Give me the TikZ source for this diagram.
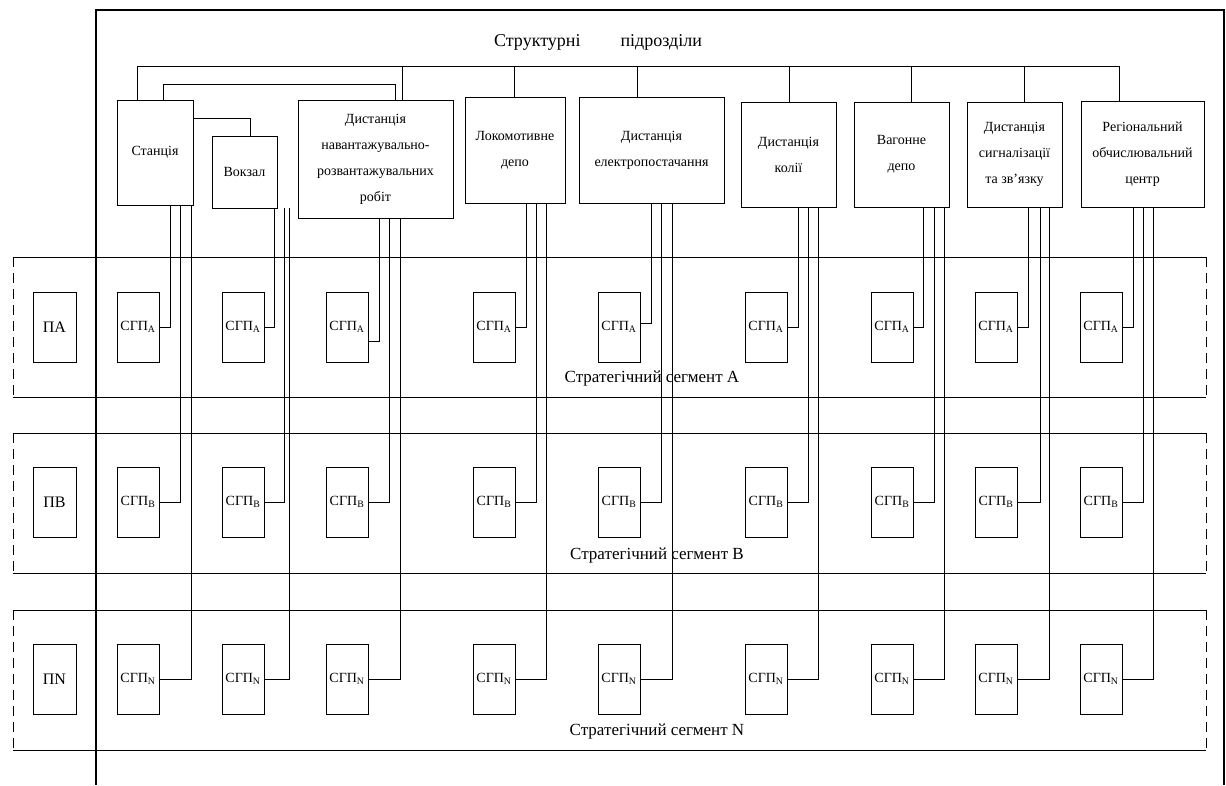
\documentclass[tikz,border=0pt]{standalone}
\usepackage{fontspec}
\setmainfont{Liberation Serif}
\begin{document}
\begin{tikzpicture}[x=1pt,y=-1pt, line width=0.8pt,
  box/.style={draw, inner sep=0pt, align=center, font=\fontsize{14}{26}\selectfont},
  modbox/.style={draw, inner sep=0pt, minimum width=42pt, minimum height=70pt, font=\fontsize{14}{16}\selectfont},
  pbox/.style={draw, inner sep=0pt, minimum width=43pt, minimum height=70pt, font=\fontsize{16}{18}\selectfont},
  frameline/.style={line width=2.2pt},
  seglab/.style={font=\fontsize{17}{19}\selectfont},
  segdash/.style={dash pattern=on 10pt off 6pt}]
\useasboundingbox (0,0) rectangle (1226,785);

% outer frame
\draw[frameline] (96,785) -- (96,10) -- (1224,10) -- (1224,785);

% title
\node[font=\fontsize{18}{20}\selectfont] (title) at (598,42) {Структурні\hspace{40pt}підрозділи};

% top boxes
\node[box, minimum width=76pt, minimum height=105pt] (b1) at (155,152.5) {Станція};
\node[box, minimum width=65pt, minimum height=72pt] (b2) at (244.5,172) {Вокзал};
\node[box, minimum width=155pt, minimum height=118pt] (b3) at (375.5,159) {Дистанція\\навантажувально-\\розвантажувальних\\робіт};
\node[box, minimum width=100pt, minimum height=106pt] (b4) at (515,150) {Локомотивне\\депо};
\node[box, minimum width=145pt, minimum height=106pt] (b5) at (651.5,150) {Дистанція\\електропостачання};
\node[box, minimum width=95pt, minimum height=105pt] (b6) at (788.5,154.5) {Дистанція\\колії};
\node[box, minimum width=95pt, minimum height=105pt] (b7) at (901.5,154.5) {Вагонне\\депо};
\node[box, minimum width=95pt, minimum height=105pt] (b8) at (1014.5,154.5) {Дистанція\\сигналізації\\та зв’язку};
\node[box, minimum width=123pt, minimum height=106pt] (b9) at (1142.5,154) {Регіональний\\обчислювальний\\центр};

% bus lines
\coordinate (busL) at (137,66);
\coordinate (busR) at (1119,66);
\draw (b1.north -| busL) -- (busL) -- (busR) -- (b9.north -| busR);
\foreach \n/\x in {b3/402,b4/514,b5/637,b6/789,b7/911,b8/1024}
  \draw (\n.north -| \x,0) -- (\x,66);
\draw (b1.north -| 163,0) -- (163,84) -- (395,84) -- (b3.north -| 395,0);
\draw (b1.east |- 0,118) -| (b2.north -| 250,0);

% segments
\foreach \s/\t/\b in {A/257/397, B/433/573, N/610/750} {
  \coordinate (s\s tl) at (13,\t);
  \coordinate (s\s tr) at (1206,\t);
  \coordinate (s\s bl) at (13,\b);
  \coordinate (s\s br) at (1206,\b);
  \draw (s\s tl) -- (s\s tr);
  \draw (s\s bl) -- (s\s br);
  \draw[segdash] (s\s tl) -- (s\s bl);
  \draw[segdash] (s\s tr) -- (s\s br);
}
\node[seglab] (labA) at (652,378) {Стратегічний сегмент А};
\node[seglab] (labB) at (657,555) {Стратегічний сегмент В};
\node[seglab] (labN) at (657,731) {Стратегічний сегмент N};

% left P boxes
\node[pbox] (pA) at (54.5,327) {ПА};
\node[pbox] (pB) at (54.5,502) {ПВ};
\node[pbox] (pN) at (54.5,679) {ПN};

% modules
\foreach \i/\mx in {1/138,2/243,3/347,4/494,5/619,6/766,7/892,8/996,9/1101} {
  \node[modbox] (mA\i) at (\mx,327) {СГП\textsubscript{А}};
  \node[modbox] (mB\i) at (\mx,502) {СГП\textsubscript{В}};
  \node[modbox] (mN\i) at (\mx,679) {СГП\textsubscript{N}};
}

% wires
\foreach \i/\ya/\xa/\xb/\xn in {1/327/170/180/191, 2/327/274/284/289, 3/341/379/389/400,
    4/327/526/536/546, 5/323/651/661/672, 6/327/798/808/818, 7/327/923/934/944,
    8/327/1028/1040/1049, 9/327/1133/1143/1153} {
  \draw (mA\i.east |- 0,\ya) -| (b\i.south -| \xa,0);
  \draw (mB\i.east) -| (b\i.south -| \xb,0);
  \draw (mN\i.east) -| (b\i.south -| \xn,0);
}
\end{tikzpicture}
\end{document}
